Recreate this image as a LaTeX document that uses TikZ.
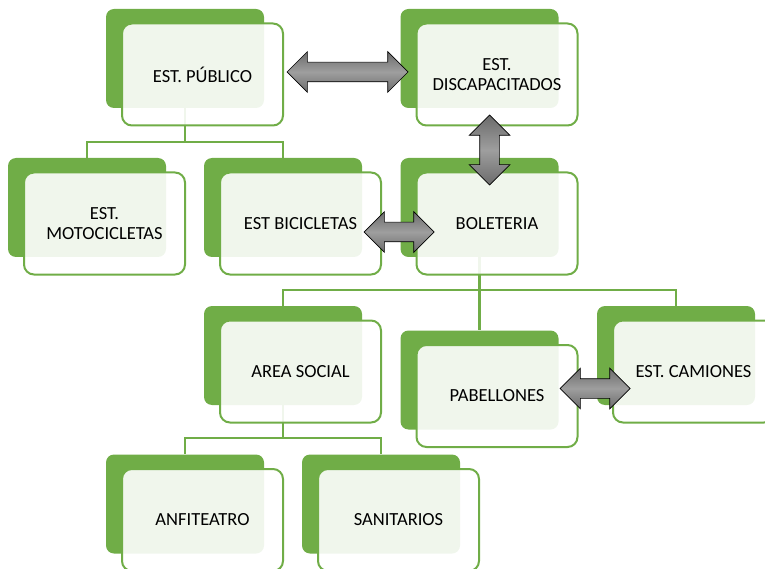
\documentclass[tikz,border=0pt]{standalone}
\usepackage{fontspec}
\setmainfont{Carlito}
\usetikzlibrary{shapes.arrows}
\definecolor{boxgreen}{HTML}{70AD47}
\begin{document}
\begin{tikzpicture}[x=1pt,y=-1pt,
    backbox/.style={fill=boxgreen,rounded corners=8pt,minimum width=158pt,minimum height=99pt,inner sep=0pt},
    frontbox/.style={draw=boxgreen,line width=2pt,fill=white,fill opacity=0.9,text opacity=1,
        rounded corners=10pt,minimum width=161pt,minimum height=102pt,inner sep=0pt,
        align=center,font=\fontsize{18.5}{20}\selectfont},
    link/.style={draw=boxgreen,line width=2.5pt},
    dblarrow/.style={double arrow,draw=black,line width=0.7pt,
        top color=black!58,bottom color=black!58,middle color=black!38,
        inner xsep=0pt,inner ysep=9.5pt,double arrow head extend=10.5pt}]
\useasboundingbox (0,0) rectangle (765,569);

% back boxes
\foreach \n/\x/\y in {pub/185/58.5,disc/479.5/58.5,moto/87/207.5,bici/283/207.5,bole/479.5/207.5,
    soc/283/355.5,pab/479.5/380,cam/676/355.5,anf/185/504,san/381/504}
{
    \node[backbox] (\n) at (\x,\y) {};
}

% tree lines
\coordinate (bus1) at (185,142);
\coordinate (bus2) at (479.5,290);
\coordinate (bus3) at (283,438);
\draw[link] (pub.south)--(bus1)-|(moto.north);
\draw[link] (bus1)-|(bici.north);
\draw[link] (bole.south)--(bus2)-|(soc.north);
\draw[link] (bus2)-|(cam.north);
\draw[link] (bus2)--(pab.north);
\draw[link] (soc.south)--(bus3)-|(anf.north);
\draw[link] (bus3)-|(san.north);

% front boxes
\foreach \n/\t in {pub/{EST. PÚBLICO},disc/{EST.\\DISCAPACITADOS},moto/{EST.\\MOTOCICLETAS},
    bici/{EST BICICLETAS},bole/{BOLETERIA},soc/{AREA SOCIAL},pab/{PABELLONES},
    cam/{EST. CAMIONES},anf/{ANFITEATRO},san/{SANITARIOS}}
{
    \node[frontbox] (\n-txt) at ([shift={(17.5,16)}]\n) {\t};
}

% double arrows
\node[dblarrow,minimum height=121pt] (a1) at (347.5,72) {};
\node[dblarrow,minimum height=70pt,rotate=90] (a2) at (489.5,150) {};
\node[dblarrow,minimum height=70pt] (a3) at (399,232) {};
\node[dblarrow,minimum height=70pt] (a4) at (595,388.5) {};
\end{tikzpicture}
\end{document}
